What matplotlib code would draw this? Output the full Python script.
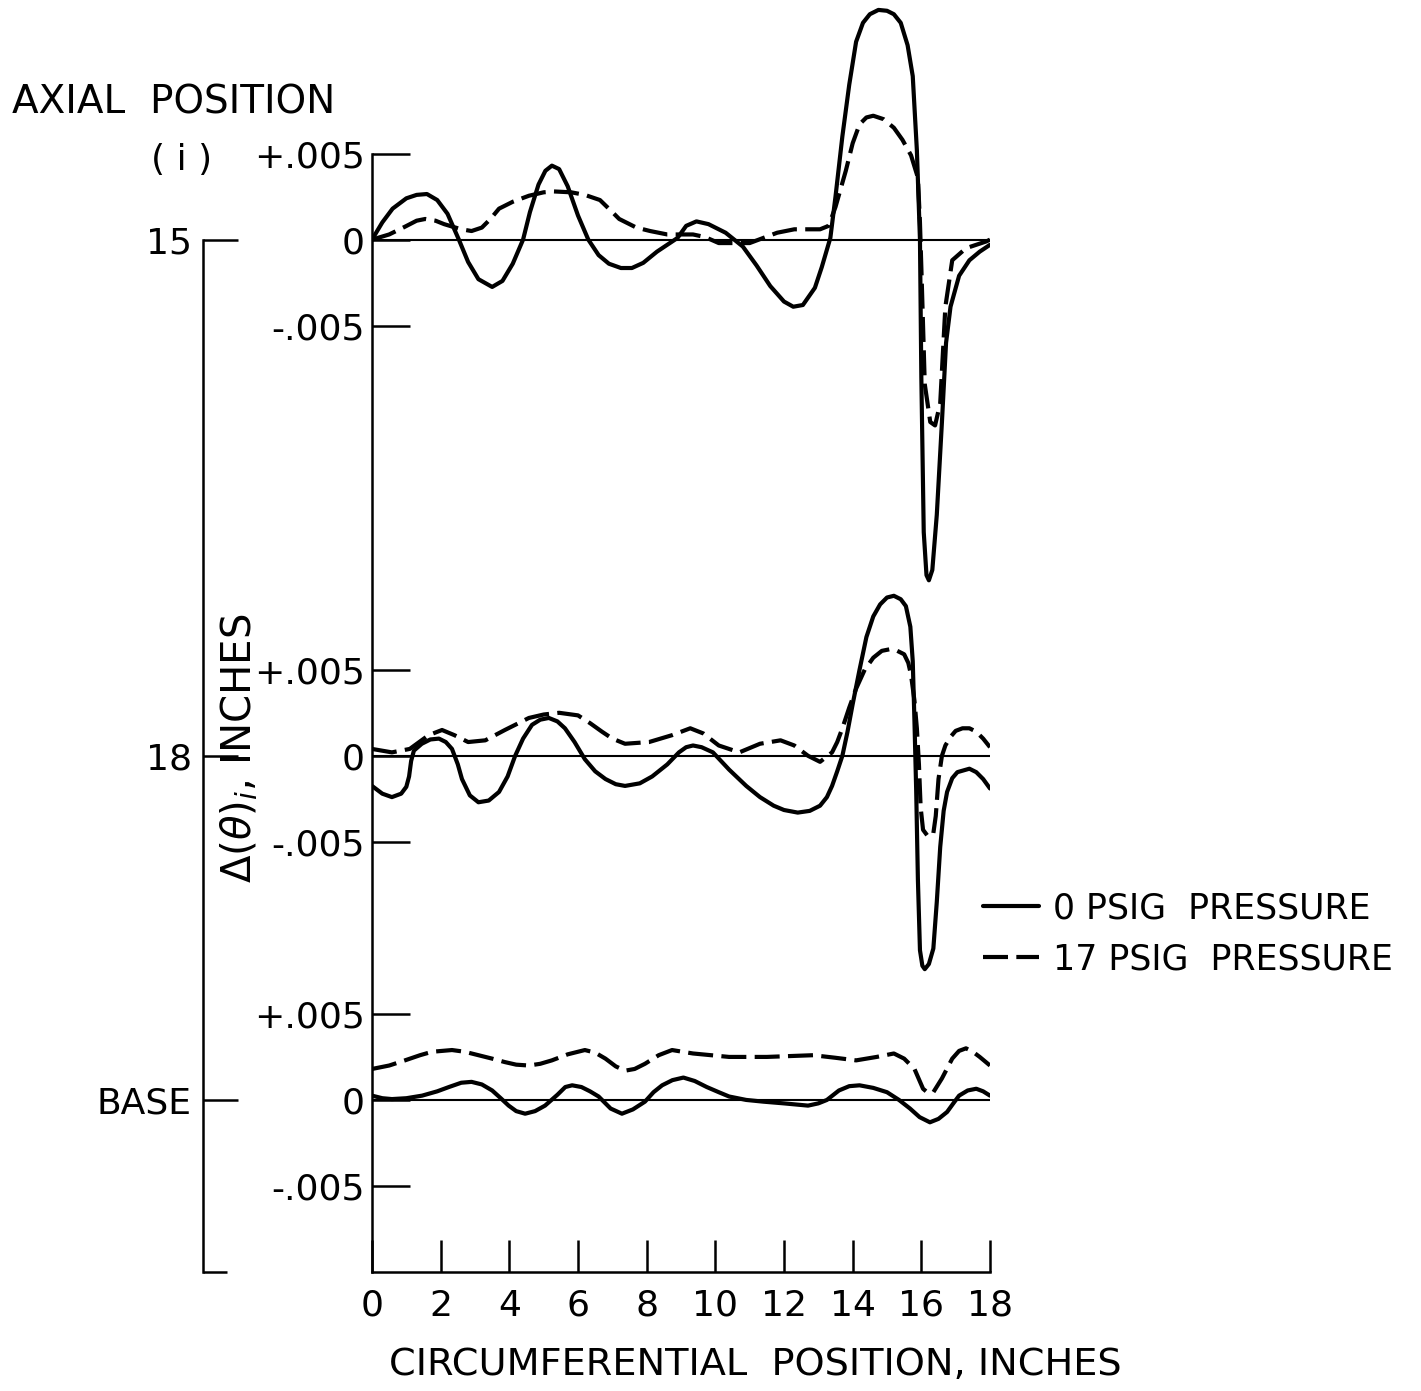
import numpy as np
import matplotlib
matplotlib.use("Agg")
import matplotlib.pyplot as plt

plt.rcParams["font.family"] = ["DejaVu Sans"]
plt.rcParams["mathtext.fontset"] = "dejavusans"

W, H = 1421, 1391

# axial positions (inches) of the three traces
positions = [15, 18, 20]
position_labels = ["15", "18", "BASE"]
scale = 0.1  # axial inches drawn per 0.001 in of deflection

# deflections, in units of 0.001 inch
x15_0 = [0, 0.3, 0.6, 1.0, 1.3, 1.6, 1.9, 2.2, 2.53, 2.8, 3.1, 3.5, 3.8, 4.1, 4.4, 4.6,
         4.85, 5.05, 5.24, 5.45, 5.7, 6.0, 6.3, 6.6, 6.9, 7.25, 7.57, 7.9, 8.3, 8.9,
         9.15, 9.45, 9.8, 10.3, 10.8, 11.2, 11.6, 12.0, 12.27, 12.55, 12.9, 13.1, 13.35,
         13.5, 13.7, 13.9, 14.1, 14.3, 14.5, 14.75, 15.0, 15.2, 15.4, 15.6, 15.75, 15.87,
         15.96, 16.0, 16.07, 16.15, 16.22, 16.32, 16.45, 16.6, 16.72, 16.85, 17.1, 17.4,
         17.7, 18.0]
d15_0 = [0, 1.0, 1.8, 2.4, 2.6, 2.65, 2.3, 1.5, 0, -1.3, -2.3, -2.75, -2.4, -1.4, 0, 1.6,
         3.2, 4.0, 4.3, 4.1, 3.1, 1.4, 0, -0.9, -1.4, -1.65, -1.65, -1.35, -0.7, 0.1,
         0.8, 1.06, 0.9, 0.4, -0.4, -1.5, -2.7, -3.6, -3.9, -3.8, -2.8, -1.6, 0.1,
         2.5, 6.0, 9.0, 11.5, 12.6, 13.1, 13.35, 13.3, 13.1, 12.6, 11.3, 9.5, 5.2,
         0, -8.0, -17.0, -19.5, -19.8, -19.2, -16.0, -10.6, -6.0, -3.9, -2.1, -1.2,
         -0.7, -0.3]
x15_17 = [0, 0.5, 0.96, 1.3, 1.55, 1.85, 2.1, 2.6, 2.9, 3.2, 3.45, 3.7, 4.1, 4.57, 5.0,
          5.3, 5.8, 6.2, 6.64, 7.0, 7.2, 7.7, 8.1, 8.6, 9.35, 9.7, 10.1, 11.0, 11.4, 11.8,
          12.3, 13.05, 13.3, 13.5, 13.8, 14.0, 14.2, 14.4, 14.6, 14.9, 15.2, 15.45, 15.7,
          15.9, 15.96, 16.0, 16.1, 16.26, 16.4, 16.55, 16.7, 16.9, 17.3, 17.9, 18.0]
d15_17 = [0, 0.3, 0.75, 1.1, 1.2, 1.1, 0.9, 0.6, 0.5, 0.7, 1.2, 1.8, 2.2, 2.55, 2.75,
          2.8, 2.75, 2.6, 2.3, 1.6, 1.2, 0.7, 0.5, 0.3, 0.3, 0.15, -0.2, -0.2, 0.1, 0.4,
          0.6, 0.6, 0.8, 1.9, 4.0, 5.6, 6.7, 7.1, 7.2, 7.0, 6.5, 5.8, 4.9,
          3.6, 1.0, -1.6, -8.4, -10.6, -10.8, -9.5, -3.9, -1.2, -0.5, -0.1, 0]

x18_0 = [0, 0.3, 0.58, 0.85, 1.0, 1.08, 1.14, 1.22, 1.45, 1.7, 1.95, 2.15, 2.33, 2.5,
         2.62, 2.85, 3.1, 3.4, 3.7, 3.95, 4.17, 4.4, 4.66, 4.9, 5.15, 5.4, 5.62, 5.9, 6.2,
         6.5, 6.8, 7.1, 7.37, 7.8, 8.16, 8.6, 8.94, 9.15, 9.35, 9.6, 9.93, 10.4, 10.9,
         11.3, 11.7, 12.0, 12.4, 12.75, 13.05, 13.25, 13.4, 13.55, 13.7, 13.85, 14.0,
         14.2, 14.4, 14.6, 14.8, 15.0, 15.2, 15.4, 15.55, 15.68, 15.75, 15.8, 15.85,
         15.9, 15.96, 16.03, 16.1, 16.22, 16.35, 16.45, 16.55, 16.65, 16.75, 16.9, 17.05,
         17.4, 17.6, 17.8, 18.0]
d18_0 = [-1.75, -2.2, -2.4, -2.2, -1.8, -1.2, -0.3, 0.3, 0.7, 0.95, 1.0, 0.8, 0.4, -0.5,
         -1.35, -2.3, -2.7, -2.6, -2.1, -1.2, 0, 1.0, 1.8, 2.1, 2.2, 2.0, 1.6, 0.8, -0.2,
         -0.9, -1.35, -1.65, -1.75, -1.6, -1.2, -0.5, 0.2, 0.5, 0.6, 0.5, 0.2, -0.8, -1.75,
         -2.4, -2.9, -3.15, -3.3, -3.2, -2.9, -2.4, -1.75, -0.9, 0, 1.4, 3.0,
         5.0, 6.9, 8.1, 8.8, 9.2, 9.3, 9.1, 8.7, 7.5, 5.5, 2.0, -2.0,
         -7.2, -11.3, -12.2, -12.4, -12.1, -11.2, -8.5, -5.3, -3.2, -2.1, -1.3, -0.95,
         -0.75, -0.95, -1.35, -1.9]
x18_17 = [0, 0.58, 1.1, 1.65, 2.04, 2.4, 2.8, 3.3, 3.87, 4.57, 5.0, 5.45, 6.0, 6.35, 6.7,
          7.0, 7.37, 8.07, 8.74, 9.27, 9.65, 10.1, 10.7, 11.3, 11.9, 12.3, 12.7, 13.05,
          13.4, 13.55, 13.7, 13.9, 14.1, 14.35, 14.6, 14.85, 15.1, 15.3, 15.5, 15.62,
          15.7, 15.8, 15.87, 15.93, 15.98, 16.05, 16.2, 16.35, 16.42, 16.5, 16.6, 16.7,
          16.85, 17.0, 17.2, 17.4, 17.6, 17.8, 18.0]
d18_17 = [0.4, 0.2, 0.4, 1.2, 1.5, 1.2, 0.8, 0.9, 1.5, 2.2, 2.4, 2.5, 2.35, 1.9, 1.4,
          1.0, 0.7, 0.8, 1.2, 1.6, 1.3, 0.6, 0.2, 0.7, 0.9, 0.6, 0, -0.35,
          0.2, 0.8, 1.6, 2.8, 3.9, 5.0, 5.7, 6.1, 6.2, 6.1, 5.9, 5.4,
          4.7, 3.2, 1.6, -0.5, -3.0, -4.3, -4.7, -4.5, -3.5, -1.35, 0, 0.6,
          1.1, 1.45, 1.6, 1.6, 1.4, 1.0, 0.5]

xb_0 = [0, 0.3, 0.58, 1.0, 1.46, 1.9, 2.24, 2.6, 2.9, 3.2, 3.5, 3.75, 3.98, 4.2, 4.46,
        4.75, 5.04, 5.4, 5.63, 5.83, 6.1, 6.35, 6.6, 6.95, 7.28, 7.6, 7.95, 8.2, 8.45,
        8.75, 9.07, 9.4, 9.75, 10.1, 10.4, 10.9, 11.4, 12.0, 12.7, 13.0, 13.25, 13.6,
        13.9, 14.2, 14.6, 15.0, 15.35, 15.67, 15.95, 16.25, 16.5, 16.75, 16.95, 17.1,
        17.35, 17.6, 17.8, 18.0]
db_0 = [0.25, 0.1, 0.05, 0.1, 0.25, 0.5, 0.75, 1.0, 1.05, 0.9, 0.55, 0.1, -0.33, -0.65,
        -0.8, -0.65, -0.33, 0.3, 0.75, 0.85, 0.75, 0.5, 0.2, -0.5, -0.8, -0.55, -0.1,
        0.45, 0.85, 1.15, 1.3, 1.1, 0.75, 0.45, 0.2, 0.0, -0.1, -0.2, -0.33, -0.2, 0,
        0.55, 0.8, 0.85, 0.7, 0.45, 0.0, -0.5, -1.0, -1.3, -1.1, -0.7, -0.15, 0.25,
        0.55, 0.65, 0.5, 0.25]
xb_17 = [0, 0.5, 0.96, 1.4, 1.75, 2.33, 2.7, 3.1, 3.5, 3.87, 4.2, 4.57, 4.9, 5.24, 5.7,
         6.2, 6.5, 6.8, 7.1, 7.37, 7.65, 7.95, 8.35, 8.74, 9.35, 10.4, 11.5, 12.85,
         13.5, 14.1, 14.7, 15.2, 15.5, 15.8, 16.05, 16.2, 16.35, 16.6, 16.9, 17.1,
         17.3, 17.5, 17.7, 18.0]
db_17 = [1.8, 2.0, 2.3, 2.6, 2.8, 2.9, 2.8, 2.6, 2.4, 2.2, 2.05, 2.0, 2.1, 2.3, 2.65,
         2.9, 2.75, 2.4, 1.95, 1.7, 1.8, 2.1, 2.6, 2.9, 2.7, 2.5, 2.5, 2.6,
         2.45, 2.3, 2.5, 2.7, 2.4, 1.8, 0.65, 0.4, 0.45, 1.25, 2.4, 2.85,
         3.0, 2.8, 2.5, 2.0]

traces = [(x15_0, d15_0, x15_17, d15_17),
          (x18_0, d18_0, x18_17, d18_17),
          (xb_0, db_0, xb_17, db_17)]

x_ticks = [0, 2, 4, 6, 8, 10, 12, 14, 16, 18]


def fx(px):
    return px / W


def fy(py):
    return 1 - py / H


fig = plt.figure(figsize=(W / 100, H / 100), dpi=100)

# main plotting area: x 0..18 in, y = axial position (inverted)
px_per_in = (757 - 240) / 3.0
y_top = 15 - 240 / px_per_in
ax = fig.add_axes([fx(372), fy(1272), fx(990) - fx(372), 1272 / H])
ax.set_xlim(0, 18)
ax.set_ylim(21, y_top)

for pos, (xs, ds, xd, dd) in zip(positions, traces):
    ax.hlines(pos, 0, 18, color="black", lw=1.5)
    l0, = ax.plot(xs, pos - scale * np.array(ds), color="black", lw=3.0,
                  solid_joinstyle="round", solid_capstyle="round")
    l1, = ax.plot(xd, pos - scale * np.array(dd), color="black", lw=3.0,
                  linestyle=(0, (6, 2)), dash_joinstyle="round")
    if pos == 15:
        h0, h1 = l0, l1

yt, yl = [], []
for pos in positions:
    yt += [pos - 0.5, pos, pos + 0.5]
    yl += ["+.005", "0", "-.005"]
ax.set_yticks(yt)
ax.set_yticklabels(yl)
ax.set_xticks(x_ticks)
ax.tick_params(axis="y", direction="in", length=27, width=1.8, pad=5, labelsize=26)
ax.tick_params(axis="x", direction="in", length=23, width=1.8, pad=12, labelsize=26)
for s in ["top", "right"]:
    ax.spines[s].set_visible(False)
ax.spines["left"].set_bounds(14.5, 21)
ax.spines["left"].set_linewidth(1.8)
ax.spines["bottom"].set_linewidth(1.8)
ax.patch.set_visible(False)

# axial position bracket (own axes, same y range)
ax2 = fig.add_axes([fx(203), fy(1272), 0.0005, 1272 / H])
ax2.set_ylim(21, y_top)
ax2.set_yticks(positions)
ax2.set_yticklabels(position_labels)
ax2.set_yticks([21], minor=True)
ax2.tick_params(axis="y", which="major", direction="in", length=25, width=1.8, pad=8,
                labelsize=26)
ax2.tick_params(axis="y", which="minor", direction="in", length=17, width=1.8)
ax2.set_xticks([])
for s in ["top", "right", "bottom"]:
    ax2.spines[s].set_visible(False)
ax2.spines["left"].set_bounds(15, 21)
ax2.spines["left"].set_linewidth(1.8)
ax2.patch.set_visible(False)

fig.text(fx(12), fy(102), "AXIAL  POSITION", fontsize=28, ha="left", va="center")
fig.text(fx(182), fy(160), "( i )", fontsize=26, ha="center", va="center")
fig.text(fx(755), fy(1365), "CIRCUMFERENTIAL  POSITION, INCHES", fontsize=27.5,
         ha="center", va="center")
fig.text(fx(240), fy(748), r"$\Delta(\theta)_i$, INCHES", fontsize=29, rotation=90,
         ha="center", va="center")

fig.legend([h0, h1], ["0 PSIG  PRESSURE", "17 PSIG  PRESSURE"],
           loc="upper left", bbox_to_anchor=(fx(952), fy(860)), frameon=False,
           fontsize=25, handlelength=1.6, handletextpad=0.4, labelspacing=0.5)

fig.savefig("out.png", dpi=100)
